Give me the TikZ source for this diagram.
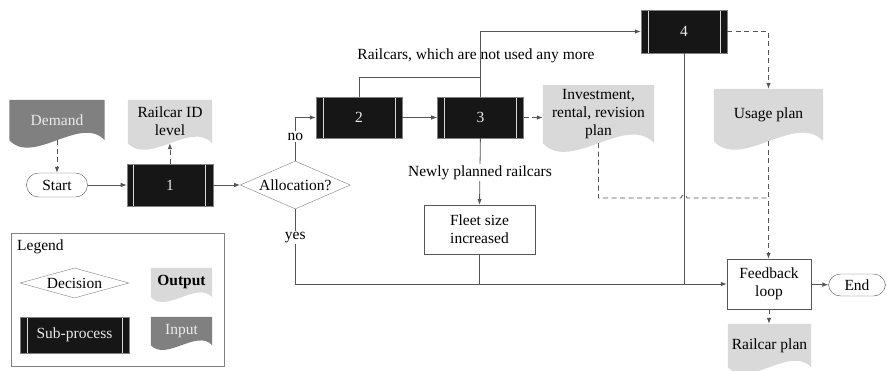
\documentclass[tikz,border=0pt]{standalone}
\usepackage{fontspec}
\setmainfont{Liberation Serif}
\usetikzlibrary{shapes.geometric, arrows.meta, positioning, calc, backgrounds}
\definecolor{linegray}{RGB}{85,85,85}
\definecolor{outgray}{RGB}{217,217,217}
\definecolor{ingray}{RGB}{128,128,128}
\definecolor{subblack}{RGB}{22,22,22}
\tikzstyle{terminal} = [rectangle, rounded corners=12pt, minimum width=61pt, minimum height=24pt, draw=linegray, fill=white]
\tikzstyle{subproc} = [rectangle, minimum width=86pt, minimum height=42pt, draw=gray, fill=subblack, text=white!92!black,
    path picture={\draw[white!70!gray, line width=1pt]
        ([xshift=7pt]path picture bounding box.north west) -- ([xshift=7pt]path picture bounding box.south west)
        ([xshift=-7pt]path picture bounding box.north east) -- ([xshift=-7pt]path picture bounding box.south east);}]
\tikzstyle{decision} = [diamond, draw=gray, inner sep=0pt, aspect=2.3, minimum width=110pt, minimum height=48pt]
\tikzstyle{process} = [rectangle, draw=linegray, fill=white, align=center, minimum width=111pt, minimum height=49pt]
\tikzstyle{docout} = [rectangle, align=center, inner sep=1pt]
\tikzstyle{docin} = [docout, text=white!92!black]
\tikzstyle{conn} = [draw=linegray, line width=0.8pt]
\tikzstyle{arrow} = [conn, -{Latex[length=6pt,width=4.5pt]}]
\tikzstyle{dconn} = [conn, dash pattern=on 5pt off 3.5pt]
\tikzstyle{darrow} = [arrow, dash pattern=on 5pt off 3.5pt]
\tikzstyle{lbl} = [fill=white, inner sep=1.5pt]

% wavy bottom of a document node, filled behind it
\newcommand{\docfill}[2]{%
  \fill[#2] let \p1=(#1.south west), \p2=(#1.north east), \n1={0.27*(\x2-\x1)} in
    (\x1,\y2) -- (\x2,\y2) -- (\x2,\y1)
    .. controls ({0.25*\x1+0.75*\x2},{\y1+\n1*1pt}) and ({0.75*\x1+0.25*\x2},{\y1-\n1*1pt}) .. (\x1,\y1) -- cycle;}

\begin{document}
\begin{tikzpicture}[x=1pt, y=-1pt, font=\fontsize{15.5}{18}\selectfont]
    \useasboundingbox (0,0) rectangle (887,370);

    % main flow
    \node (start) [terminal] at (57,185) {Start};
    \node (b1) [subproc, right=39pt of start] {1};
    \node (alloc) [decision, right=27pt of b1] {Allocation?};
    \node (b2) [subproc, minimum height=41pt] at (359,117.5) {2};
    \node (b3) [subproc, minimum height=41pt, right=35pt of b2] {3};
    \node (b4) [subproc, minimum height=43pt] at (684,31.5) {4};
    \node (fleet) [process] at (479.5,229.5) {Fleet size\\increased};
    \node (fb) [process, minimum width=84pt, minimum height=50pt] at (769,284) {Feedback\\loop};
    \node (endn) [terminal, minimum width=57pt, minimum height=22pt] at (857,285) {End};

    % documents
    \node (demand) [docin, minimum width=95pt, minimum height=40pt] at (57,120) {Demand};
    \node (railid) [docout, minimum width=84pt, minimum height=43pt] at (170,121.5) {Railcar ID\\level};
    \node (inv) [docout, minimum width=111pt, minimum height=58pt] at (598.5,114) {Investment,\\rental, revision\\plan};
    \node (usage) [docout, minimum width=109pt, minimum height=52pt] at (768.5,115) {Usage plan};
    \node (plan) [docout, minimum width=83pt, minimum height=43pt] at (769.5,345.5) {Railcar plan};

    \node (notused) at (476,56) {Railcars, which are not used any more};
    \coordinate (rcj) at (480,77);
    \coordinate (fbj) at (768,198);

    % legend
    \node (legend) [draw=gray, minimum width=213pt, minimum height=133pt] at (117.5,299.5) {};
    \node (legtitle) [anchor=west, inner sep=0pt] at (17,247) {Legend};
    \node (legdec) [decision, aspect=3.6, minimum width=109pt, minimum height=30pt] at (74.5,283) {Decision};
    \node (legout) [docout, minimum width=61pt, minimum height=29pt] at (181.5,282.5) {\textbf{Output}};
    \node (legsub) [subproc, minimum width=109pt, minimum height=36pt] at (74.5,335) {Sub-process};
    \node (legin) [docin, minimum width=61pt, minimum height=28pt] at (181.5,331) {Input};

    \begin{scope}[on background layer]
        \docfill{demand}{ingray}
        \docfill{railid}{outgray}
        \docfill{inv}{outgray}
        \docfill{usage}{outgray}
        \docfill{plan}{outgray}
        \docfill{legout}{outgray}
        \docfill{legin}{ingray}
    \end{scope}

    % connectors
    \draw [darrow] (demand.south) -- (start.north);
    \draw [arrow] (start) -- (b1);
    \draw [darrow] (b1.north) -- (b1.north |- railid.south);
    \draw [arrow] (b1) -- (alloc);
    \draw [arrow] (alloc.north) |- node[lbl, pos=0.28] (no) {no} (b2.west);
    \draw [arrow] (b2) -- (b3);
    \draw [darrow] (b3.east) -- (b3.east -| inv.west);
    \draw [conn] (b2.north) |- (rcj);
    \draw [arrow] (b3.north) |- (b4.west);
    \draw [darrow] (b4.east) -| (usage.north);
    \draw [arrow] (b3.south) -- node[lbl, pos=0.52] (newly) {Newly planned railcars} (fleet.north);
    \draw [arrow] (alloc.south) |- node[lbl, pos=0.19] (yes) {yes} (fb.west);
    \draw [conn] (fleet.south) -- (fleet.south |- fb.west);
    \draw [conn] (b4.south) -- (b4.south |- fb.west);
    \draw [dconn] (inv.south) |- ($(b4.south |- fbj)+(-3,0)$) arc[start angle=180, end angle=0, radius=3pt] -- (fbj);
    \draw [darrow] (usage.south) -- (usage.south |- fb.north);
    \draw [arrow] (fb) -- (endn);
    \draw [darrow] (fb.south) -- (fb.south |- plan.north);
\end{tikzpicture}
\end{document}
